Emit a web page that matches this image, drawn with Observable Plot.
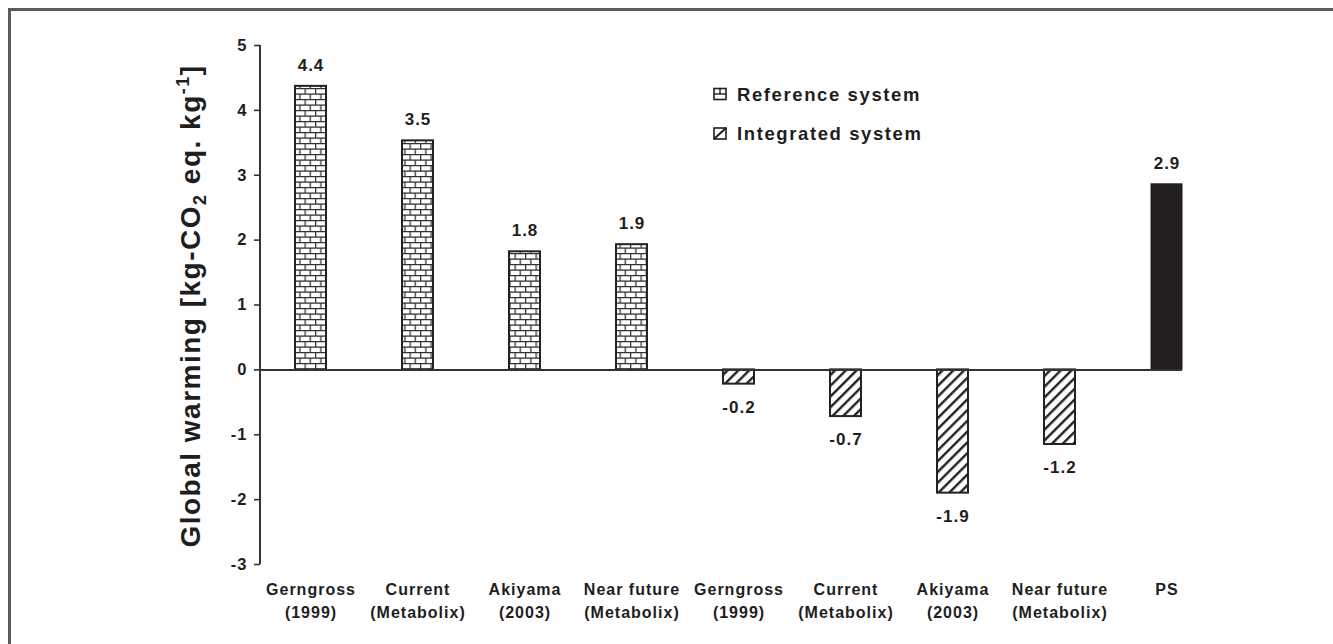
<!DOCTYPE html>
<html><head><meta charset="utf-8">
<script src="https://cdn.jsdelivr.net/npm/d3@7"></script>
<script src="https://cdn.jsdelivr.net/npm/@observablehq/plot@0.6"></script>
<style>
body{margin:0;background:#fff;}
#wrap{position:relative;width:1333px;height:644px;overflow:hidden;background:#fff;}
#chart svg{display:block;}
#chart svg text{letter-spacing:1px;font-weight:bold;}
#border{position:absolute;left:8px;top:8px;right:-10px;bottom:-10px;border-top:3px solid #5a5a5a;border-left:3px solid #5a5a5a;pointer-events:none;}
</style></head><body>
<div id="wrap"><div id="chart"></div><div id="border"></div></div>
<script>
// ---- data ----
const names = ["Gerngross\n(1999)", "Current\n(Metabolix)", "Akiyama\n(2003)", "Near future\n(Metabolix)",
               "Gerngross\n(1999)", "Current\n(Metabolix)", "Akiyama\n(2003)", "Near future\n(Metabolix)", "PS"];
const systems = ["Reference", "Reference", "Reference", "Reference",
                 "Integrated", "Integrated", "Integrated", "Integrated", "PS"];
const values = [4.37, 3.53, 1.82, 1.93, -0.22, -0.72, -1.90, -1.15, 2.86];
const valueLabels = ["4.4", "3.5", "1.8", "1.9", "-0.2", "-0.7", "-1.9", "-1.2", "2.9"];
const yTicks = [-3, -2, -1, 0, 1, 2, 3, 4, 5];
const legendLabels = ["Reference system", "Integrated system"];

const data = names.map((n, i) => ({i, name: n, system: systems[i], value: values[i], label: valueLabels[i]}));

const FONT = "Arial, 'Liberation Sans', Helvetica, sans-serif";
const INK = "#1e1e1e";

// pattern definitions (rendered as a mark)
const defsMark = () => {
  const defs = d3.create("svg:defs");
  const b = defs.append("pattern").attr("id", "brick").attr("patternUnits", "userSpaceOnUse")
    .attr("width", 10.5).attr("height", 11);
  b.append("rect").attr("width", 10.5).attr("height", 11).attr("fill", "#fff");
  const st = {stroke: "#333", "stroke-width": 1.3};
  const ln = (x1, y1, x2, y2) => { const l = b.append("line").attr("x1", x1).attr("y1", y1).attr("x2", x2).attr("y2", y2); for (const k in st) l.attr(k, st[k]); };
  ln(0, 0.6, 10.5, 0.6); ln(0, 6.1, 10.5, 6.1);
  ln(0.6, 0.6, 0.6, 6.1); ln(5.85, 6.1, 5.85, 11.6);
  const h = defs.append("pattern").attr("id", "hatch").attr("patternUnits", "userSpaceOnUse")
    .attr("width", 7.6).attr("height", 7.6).attr("patternTransform", "rotate(45)");
  h.append("rect").attr("width", 7.6).attr("height", 7.6).attr("fill", "#fff");
  h.append("rect").attr("x", 0).attr("width", 2.4).attr("height", 7.6).attr("fill", "#222");
  return defs.node();
};

// y-axis title with sub/superscript
const yTitle = () => {
  const t = d3.create("svg:text")
    .attr("transform", "translate(200,306) rotate(-90)")
    .attr("text-anchor", "middle")
    .attr("font-size", 28).attr("font-weight", "bold").attr("fill", INK)
    .style("letter-spacing", "1.5px");
  t.append("tspan").text("Global warming [kg-CO");
  t.append("tspan").attr("font-size", 18).attr("dy", 6).text("2");
  t.append("tspan").attr("dy", -6).text(" eq. kg");
  t.append("tspan").attr("font-size", 18).attr("dy", -11).text("-1");
  t.append("tspan").attr("dy", 11).text("]");
  return t.node();
};

// legend
const legend = () => {
  const g = d3.create("svg:g").attr("font-size", 18.5).attr("font-weight", "bold").attr("fill", INK)
    .attr("text-anchor", "start");
  const rows = [{y: 100.5, kind: "brick"}, {y: 140, kind: "hatch"}];
  rows.forEach((r, k) => {
    const ic = g.append("g").attr("transform", `translate(714,${r.y - 12})`);
    ic.append("rect").attr("width", 12).attr("height", 11).attr("fill", "#fff").attr("stroke", INK).attr("stroke-width", 1.6);
    if (r.kind === "brick") {
      ic.append("line").attr("x1", 0).attr("x2", 12).attr("y1", 5.5).attr("y2", 5.5).attr("stroke", INK).attr("stroke-width", 1.4);
      ic.append("line").attr("x1", 6).attr("x2", 6).attr("y1", 0).attr("y2", 5.5).attr("stroke", INK).attr("stroke-width", 1.4);
    } else {
      ic.append("line").attr("x1", 0).attr("x2", 12).attr("y1", 11).attr("y2", 0).attr("stroke", INK).attr("stroke-width", 2);
    }
    g.append("text").attr("x", 737).attr("y", r.y).attr("text-anchor", "start")
      .style("letter-spacing", "1.6px").text(legendLabels[k]);
  });
  return g.node();
};

const pos = data.filter(d => d.value >= 0);
const neg = data.filter(d => d.value < 0);

const chart = Plot.plot({
  width: 1333,
  height: 644,
  marginLeft: 260,
  marginRight: 151,
  marginTop: 45,
  marginBottom: 80,
  style: {fontFamily: FONT, fontWeight: "bold", color: INK, background: "transparent", overflow: "visible"},
  x: {domain: d3.range(9), range: [241, 1236], paddingInner: 0.71, paddingOuter: 0.5, axis: null},
  y: {domain: [-3, 5], axis: null},
  marks: [
    defsMark,
    Plot.barY(data.filter(d => d.system === "Reference"), {x: "i", y: "value", fill: "url(#brick)", stroke: "#222", strokeWidth: 2}),
    Plot.barY(data.filter(d => d.system === "Integrated"), {x: "i", y: "value", fill: "url(#hatch)", stroke: "#222", strokeWidth: 2}),
    Plot.barY(data.filter(d => d.system === "PS"), {x: "i", y: "value", fill: "#231f20", stroke: "#231f20", strokeWidth: 1}),
    Plot.ruleY([0], {stroke: "#333", strokeWidth: 2}),
    Plot.axisY({ticks: yTicks, tickSize: 6, tickPadding: 8, tickFormat: () => "", label: null, stroke: "#333", strokeWidth: 1.6}),
    Plot.text(yTicks, {y: d => d, text: d => String(d), frameAnchor: "left", textAnchor: "end", dx: -13, fontSize: 16.5, fontWeight: "bold", fill: INK}),
    Plot.axisX({tickSize: 0, tickPadding: 15, tickFormat: i => names[i], fontSize: 16, fontWeight: "bold", lineHeight: 1.4, label: null}),
    Plot.text(pos, {x: "i", y: "value", text: "label", dy: -21, fontSize: 17, fontWeight: "bold", fill: INK}),
    Plot.text(neg, {x: "i", y: "value", text: "label", dy: 23, fontSize: 17, fontWeight: "bold", fill: INK}),
    yTitle,
    legend
  ]
});

// vertical axis line along the left edge of the plotting area
d3.select(chart).append("line")
  .attr("x1", 260).attr("x2", 260).attr("y1", 45).attr("y2", 564)
  .attr("stroke", "#333").attr("stroke-width", 2);

document.getElementById("chart").appendChild(chart);
</script>
</body></html>
